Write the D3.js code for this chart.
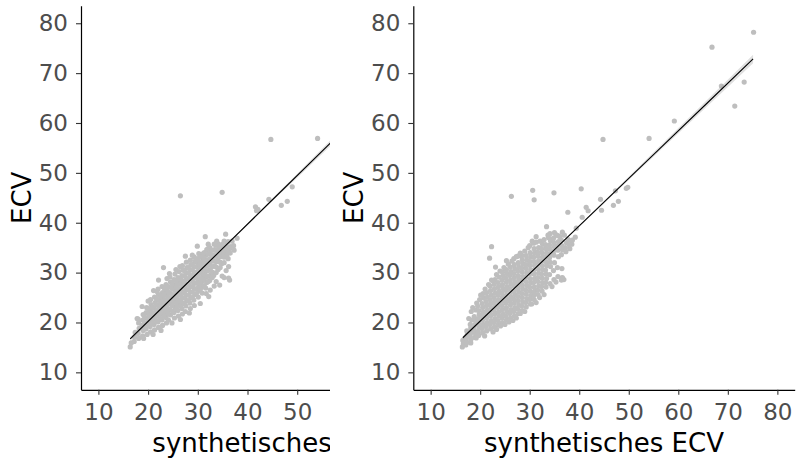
<!DOCTYPE html>
<html>
<head>
<meta charset="UTF-8">
<title>ECV vs synthetisches ECV</title>
<script src="https://cdn.jsdelivr.net/npm/d3@7"></script>
<style>
  body { margin: 0; background: #fff; }
  svg text { font-family: "DejaVu Sans", sans-serif; }
</style>
</head>
<body>
<script>
// shared axis setup
var tickValues = [10, 20, 30, 40, 50, 60, 70, 80];
var axisDomain = [6.5, 83.5];
var xTitle = "synthetisches ECV";
var yTitle = "ECV";

// left panel: [synthetisches ECV, ECV]
var leftPoints = [
  [16.4, 15.1], [16.6, 15.9], [17.2, 16.2], [17.3, 17.1], [17.4, 18.0], [17.8, 20.8],
  [18.1, 16.8], [18.0, 17.8], [18.2, 18.8], [18.1, 19.9], [18.0, 20.7],
  [18.9, 17.3], [19.0, 18.4], [18.8, 19.4], [18.9, 20.5], [19.0, 21.6], [18.8, 23.2],
  [19.8, 17.6], [19.6, 18.7], [19.7, 19.8], [19.8, 20.9], [19.6, 22.0], [19.7, 23.0],
  [20.5, 18.1], [20.4, 19.2], [20.6, 20.3], [20.5, 21.4], [20.4, 22.5], [20.6, 23.6], [20.5, 24.6],
  [21.3, 18.5], [21.2, 19.6], [21.4, 20.7], [21.3, 21.8], [21.2, 22.9], [21.4, 24.0], [21.3, 25.1], [21.1, 26.4],
  [22.1, 19.0], [22.0, 20.1], [22.2, 21.2], [22.1, 22.3], [22.0, 23.4], [22.2, 24.5], [22.1, 25.6], [22.0, 26.7], [22.1, 28.5],
  [22.9, 19.4], [22.8, 20.5], [23.0, 21.6], [22.9, 22.7], [22.8, 23.8], [23.0, 24.9], [22.9, 26.0], [22.8, 27.2],
  [23.7, 19.9], [23.6, 21.0], [23.8, 22.1], [23.7, 23.2], [23.6, 24.3], [23.8, 25.4], [23.7, 26.5], [23.6, 27.6], [23.8, 28.8], [23.1, 31.0],
  [24.1, 20.5], [24.5, 21.5], [24.4, 22.6], [24.6, 23.7], [24.5, 24.8], [24.4, 25.9], [24.6, 27.0], [24.5, 28.1], [24.4, 29.1],
  [25.3, 20.9], [25.2, 22.0], [25.4, 23.1], [25.3, 24.2], [25.2, 25.3], [25.4, 26.4], [25.3, 27.5], [25.2, 28.6], [25.4, 29.7],
  [26.1, 21.3], [26.0, 22.4], [26.2, 23.5], [26.1, 24.6], [26.0, 25.7], [26.2, 26.8], [26.1, 27.9], [26.0, 29.0], [26.2, 30.2],
  [26.9, 21.7], [26.8, 22.8], [27.0, 23.9], [26.9, 25.0], [26.8, 26.1], [27.0, 27.2], [26.9, 28.3], [26.8, 29.4], [27.0, 30.5], [26.9, 31.4],
  [27.5, 22.2], [27.6, 23.3], [27.8, 24.4], [27.7, 25.5], [27.6, 26.6], [27.8, 27.7], [27.7, 28.8], [27.6, 29.9], [27.8, 31.0], [27.7, 32.1], [27.5, 33.3],
  [28.5, 22.8], [28.4, 23.9], [28.6, 25.0], [28.5, 26.1], [28.4, 27.2], [28.6, 28.3], [28.5, 29.4], [28.4, 30.5], [28.6, 31.6], [28.5, 32.5],
  [29.3, 23.4], [29.2, 24.5], [29.4, 25.6], [29.3, 26.7], [29.2, 27.8], [29.4, 28.9], [29.3, 30.0], [29.2, 31.1], [29.4, 32.2], [29.3, 33.1], [29.9, 35.3],
  [30.5, 23.8], [30.1, 25.1], [30.9, 25.9], [30.0, 26.2], [30.2, 27.3], [30.1, 28.4], [30.0, 29.5], [30.2, 30.6], [30.1, 31.7], [30.0, 32.8], [30.2, 33.8],
  [30.9, 27.1], [30.8, 28.2], [31.0, 29.3], [30.9, 30.4], [30.8, 31.5], [31.0, 32.6], [30.9, 33.7], [31.5, 37.2],
  [31.7, 25.8], [31.6, 26.9], [31.8, 28.0], [31.7, 29.1], [31.6, 30.2], [31.8, 31.3], [31.7, 32.4], [31.6, 33.5], [31.8, 34.6],
  [32.5, 26.5], [32.4, 28.4], [32.6, 29.5], [32.5, 30.6], [32.4, 31.7], [32.6, 32.8], [32.5, 33.9], [32.4, 35.0],
  [33.3, 27.3], [33.7, 28.2], [33.2, 29.4], [33.4, 31.3], [33.3, 32.4], [33.2, 33.5], [33.4, 34.6], [33.3, 35.7],
  [34.1, 30.6], [34.0, 32.5], [34.2, 33.6], [34.1, 34.7], [34.0, 35.8],
  [34.9, 29.3], [34.8, 31.8], [35.0, 33.6], [34.9, 34.7], [34.8, 35.6], [35.6, 37.7],
  [35.7, 30.4], [35.8, 33.3], [35.6, 34.2], [35.7, 35.3], [35.8, 36.0],
  [36.2, 31.2], [36.2, 28.9], [36.4, 28.5], [36.5, 33.9], [36.4, 34.8], [36.6, 35.2],
  [37.3, 34.5], [37.2, 35.4], [37.9, 36.9],
  // denser core
  [19.3, 18.9], [19.3, 20.0], [19.3, 21.1],
  [20.1, 19.5], [20.1, 20.6], [20.1, 21.7], [20.1, 22.8],
  [20.9, 19.8], [20.9, 20.9], [20.9, 22.0], [20.9, 23.1],
  [21.7, 20.3], [21.7, 21.4], [21.7, 22.5], [21.7, 23.6], [21.7, 24.7],
  [22.5, 20.8], [22.5, 21.9], [22.5, 23.0], [22.5, 24.1], [22.5, 25.2],
  [23.3, 21.3], [23.3, 22.4], [23.3, 23.5], [23.3, 24.6], [23.3, 25.7], [23.3, 26.8],
  [24.1, 21.7], [24.1, 22.8], [24.1, 23.9], [24.1, 25.0], [24.1, 26.1], [24.1, 27.2],
  [24.9, 22.3], [24.9, 23.4], [24.9, 24.5], [24.9, 25.6], [24.9, 26.7], [24.9, 27.8],
  [25.7, 22.8], [25.7, 23.9], [25.7, 25.0], [25.7, 26.1], [25.7, 27.2], [25.7, 28.3],
  [26.5, 23.3], [26.5, 24.4], [26.5, 25.5], [26.5, 26.6], [26.5, 27.7], [26.5, 28.8],
  [27.3, 23.8], [27.3, 24.9], [27.3, 26.0], [27.3, 27.1], [27.3, 28.2], [27.3, 29.3], [27.3, 30.4],
  [28.1, 24.4], [28.1, 25.5], [28.1, 26.6], [28.1, 27.7], [28.1, 28.8], [28.1, 29.9], [28.1, 31.0],
  [28.9, 25.0], [28.9, 26.1], [28.9, 27.2], [28.9, 28.3], [28.9, 29.4], [28.9, 30.5], [28.9, 31.6],
  [29.7, 25.7], [29.7, 26.8], [29.7, 27.9], [29.7, 29.0], [29.7, 30.1], [29.7, 31.2], [29.7, 32.3],
  [30.5, 26.6], [30.5, 27.7], [30.5, 28.8], [30.5, 29.9], [30.5, 31.0], [30.5, 32.1], [30.5, 33.2],
  [31.3, 27.4], [31.3, 28.5], [31.3, 29.6], [31.3, 30.7], [31.3, 31.8], [31.3, 32.9], [31.3, 34.0],
  [32.1, 28.2], [32.1, 29.3], [32.1, 30.4], [32.1, 31.5], [32.1, 32.6], [32.1, 33.7], [32.1, 34.8],
  [32.9, 29.0], [32.9, 30.1], [32.9, 31.2], [32.9, 32.3], [32.9, 33.4], [32.9, 34.5],
  [33.7, 30.0], [33.7, 31.1], [33.7, 32.2], [33.7, 33.3], [33.7, 34.4], [33.7, 35.5],
  [34.5, 31.0], [34.5, 32.1], [34.5, 33.2], [34.5, 34.3], [34.5, 35.3],
  [35.3, 32.0], [35.3, 33.1], [35.3, 34.2], [35.3, 35.1], [35.3, 36.3],
  [36.1, 32.8], [36.1, 33.9], [36.1, 35.0], [36.1, 36.2],
  // ragged edges
  [19.1, 16.8], [21.0, 17.6], [22.6, 18.4], [24.8, 19.9], [26.5, 20.6], [28.3, 21.9], [32.2, 25.2],
  [34.4, 27.5], [35.3, 29.0], [20.0, 24.3], [21.8, 26.2], [24.3, 29.8], [25.6, 30.6], [26.4, 31.2],
  [28.9, 33.5], [32.1, 35.7], [33.8, 36.3], [36.9, 36.3],
  // outliers
  [41.6, 43.2], [41.8, 42.4], [42.1, 42.7], [44.3, 44.7], [46.8, 43.5], [48.0, 44.3], [49.0, 47.2],
  [26.5, 45.4], [34.9, 46.1], [44.7, 56.7], [54.1, 56.9]
];

// right panel: [synthetisches ECV, ECV]
var rightPoints = [
  [16.4, 15.1], [16.6, 15.7], [16.5, 16.4], [17.1, 15.5], [18.1, 15.9],
  [17.3, 16.0], [17.2, 16.8], [17.4, 17.6], [17.3, 18.3], [17.7, 20.8],
  [18.1, 16.5], [18.0, 17.2], [18.2, 18.0], [18.1, 18.9], [18.0, 19.6], [18.3, 20.5], [18.2, 22.2],
  [18.9, 17.0], [19.0, 17.9], [18.8, 18.7], [18.9, 19.5], [19.0, 20.4], [18.8, 21.2], [19.1, 22.5],
  [19.7, 17.4], [19.6, 18.2], [19.8, 19.1], [19.7, 19.9], [19.6, 20.8], [19.8, 21.6], [19.7, 22.4], [19.5, 23.3],
  [20.5, 17.9], [20.4, 18.8], [20.6, 19.6], [20.5, 20.5], [20.4, 21.3], [20.6, 22.1], [20.5, 23.0], [20.4, 23.8], [20.7, 24.9], [20.6, 25.8],
  [21.3, 18.3], [21.2, 19.2], [21.4, 20.0], [21.3, 20.9], [21.2, 21.7], [21.4, 22.5], [21.3, 23.4], [21.2, 24.2], [21.4, 25.1], [21.3, 26.0],
  [22.1, 18.7], [22.0, 19.6], [22.2, 20.4], [22.1, 21.3], [22.0, 22.1], [22.2, 23.0], [22.1, 23.8], [22.0, 24.6], [22.2, 25.5], [22.1, 26.4], [22.0, 27.3],
  [22.9, 19.1], [22.8, 20.0], [23.0, 20.8], [22.9, 21.7], [22.8, 22.5], [23.0, 23.4], [22.9, 24.2], [22.8, 25.0], [23.0, 25.9], [22.9, 26.8], [22.8, 27.7], [23.0, 28.6],
  [23.7, 19.6], [23.6, 20.4], [23.8, 21.3], [23.7, 22.1], [23.6, 23.0], [23.8, 23.8], [23.7, 24.6], [23.6, 25.5], [23.8, 26.3], [23.7, 27.2], [23.6, 28.0], [23.8, 29.1],
  [24.5, 20.0], [24.4, 20.9], [24.6, 21.7], [24.5, 22.6], [24.4, 23.4], [24.6, 24.3], [24.5, 25.1], [24.4, 25.9], [24.6, 26.8], [24.5, 27.6], [24.4, 28.5], [24.6, 29.4], [24.5, 30.1],
  [25.3, 20.5], [25.2, 21.3], [25.4, 22.2], [25.3, 23.0], [25.2, 23.9], [25.4, 24.7], [25.3, 25.5], [25.2, 26.4], [25.4, 27.2], [25.3, 28.1], [25.2, 28.9], [25.4, 29.8], [25.3, 30.6],
  [26.1, 20.9], [26.0, 21.8], [26.2, 22.6], [26.1, 23.5], [26.0, 24.3], [26.2, 25.1], [26.1, 26.0], [26.0, 26.8], [26.2, 27.7], [26.1, 28.5], [26.0, 29.4], [26.2, 30.2], [26.1, 31.1],
  [26.9, 21.3], [26.8, 22.2], [27.0, 23.0], [26.9, 23.9], [26.8, 24.7], [27.0, 25.6], [26.9, 26.4], [26.8, 27.3], [27.0, 28.1], [26.9, 29.0], [26.8, 29.8], [27.0, 30.7], [26.9, 31.6], [26.8, 32.8],
  [27.7, 21.8], [27.6, 22.7], [27.8, 23.5], [27.7, 24.4], [27.6, 25.2], [27.8, 26.1], [27.7, 26.9], [27.6, 27.7], [27.8, 28.6], [27.7, 29.4], [27.6, 30.3], [27.8, 31.1], [27.7, 32.0], [27.6, 33.3],
  [28.5, 22.4], [28.4, 23.3], [28.6, 24.1], [28.5, 25.0], [28.4, 25.8], [28.6, 26.7], [28.5, 27.5], [28.4, 28.4], [28.6, 29.2], [28.5, 30.1], [28.4, 30.9], [28.6, 31.8], [28.5, 32.6], [28.4, 33.4],
  [29.3, 23.1], [29.2, 24.0], [29.4, 24.8], [29.3, 25.7], [29.2, 26.5], [29.4, 27.4], [29.3, 28.2], [29.2, 29.1], [29.4, 29.9], [29.3, 30.8], [29.2, 31.6], [29.4, 32.5], [29.3, 33.4],
  [30.1, 23.7], [30.0, 24.6], [30.2, 25.4], [30.1, 26.3], [30.0, 27.1], [30.2, 28.0], [30.1, 28.8], [30.0, 29.7], [30.2, 30.5], [30.1, 31.4], [30.0, 32.2], [30.2, 33.1], [30.1, 34.0], [30.0, 35.4],
  [30.9, 24.6], [30.8, 25.4], [31.0, 26.3], [30.9, 27.1], [30.8, 28.0], [31.0, 28.8], [30.9, 29.7], [30.8, 30.5], [31.0, 31.4], [30.9, 32.2], [30.8, 33.1], [31.0, 33.9], [30.9, 34.8], [30.8, 35.9],
  [31.7, 25.6], [31.6, 26.5], [31.8, 27.3], [31.7, 28.2], [31.6, 29.0], [31.8, 29.9], [31.7, 30.7], [31.6, 31.6], [31.8, 32.4], [31.7, 33.3], [31.6, 34.1], [31.8, 35.0], [31.3, 37.2],
  [32.5, 26.3], [32.4, 27.2], [32.6, 28.0], [32.5, 28.9], [32.4, 29.7], [32.6, 30.6], [32.5, 31.4], [32.4, 32.3], [32.6, 33.1], [32.5, 34.0], [32.4, 34.8], [32.6, 35.7],
  [33.3, 27.1], [33.2, 28.0], [33.4, 28.8], [33.3, 29.7], [33.2, 30.5], [33.4, 31.4], [33.3, 32.2], [33.2, 33.1], [33.4, 33.9], [33.3, 34.8], [33.2, 35.6], [33.7, 37.5], [33.4, 39.2],
  [34.1, 27.8], [34.0, 29.6], [34.2, 31.2], [34.1, 32.1], [34.0, 33.0], [34.2, 33.8], [34.1, 34.7], [34.0, 35.5], [34.2, 36.4], [34.1, 37.8],
  [34.9, 28.6], [34.8, 30.4], [35.0, 32.0], [34.9, 33.5], [34.8, 34.3], [35.0, 35.2], [34.9, 36.0], [34.8, 36.9], [35.0, 38.0],
  [35.7, 29.2], [35.6, 31.0], [35.8, 33.2], [35.7, 34.5], [35.6, 35.3], [35.8, 36.2], [35.7, 37.4],
  [36.4, 28.5], [36.6, 29.0], [36.5, 30.8], [36.4, 33.6], [36.6, 34.6], [36.5, 35.4], [36.4, 36.5], [36.6, 38.1],
  [37.3, 34.2], [37.2, 35.0], [37.4, 36.0], [38.1, 34.8], [38.5, 35.7], [38.0, 35.6],
  // ragged lower edge
  [19.2, 16.9], [20.9, 17.3], [22.6, 18.1], [23.3, 18.6], [24.1, 19.3], [25.0, 19.6], [25.8, 20.1],
  [26.6, 20.4], [27.3, 20.9], [29.0, 22.2], [31.3, 24.0], [32.0, 25.0], [32.9, 25.6], [34.5, 27.2],
  [35.3, 28.1], [36.9, 28.6], [36.5, 28.9],
  // ragged upper edge
  [18.5, 23.0], [19.3, 23.9], [19.9, 24.6], [20.1, 25.5], [21.0, 26.7], [21.7, 27.6], [22.5, 28.4],
  [23.3, 29.6], [24.0, 30.3], [24.8, 31.0], [25.7, 31.7], [26.4, 32.3], [27.3, 33.2], [28.1, 33.9],
  [29.0, 34.3], [29.7, 35.0], [30.5, 36.3], [31.3, 36.1], [32.1, 36.3], [32.9, 36.6], [33.8, 37.0],
  [35.3, 37.6], [36.1, 37.2], [37.0, 37.5], [37.8, 36.6], [38.6, 36.5], [39.2, 37.1],
  // outliers
  [22.3, 35.2], [21.9, 32.9], [23.1, 31.1], [25.3, 32.4], [22.3, 28.5], [28.1, 21.8], [30.4, 23.7], [30.8, 26.0],
  [37.7, 42.1], [39.4, 38.9], [40.6, 41.1], [41.4, 43.1], [41.8, 42.4], [44.3, 44.7], [44.5, 42.5],
  [46.9, 43.5], [47.9, 44.3], [47.3, 46.4], [49.5, 46.9], [49.8, 47.1],
  [26.3, 45.3], [30.6, 46.5], [30.9, 44.6], [34.9, 46.0], [40.4, 46.8],
  [44.8, 56.7], [54.1, 56.9], [59.2, 60.4], [66.8, 75.2], [68.7, 67.4], [71.4, 63.4], [73.3, 68.2], [75.2, 78.2]
];

// fitted lines with standard error
var leftFitX = [16.4, 26, 36, 46, 56, 62];
var leftFitY = [16.7, 26.06, 35.81, 45.56, 55.31, 61.16];
var leftFitSe = [0.4, 0.2, 0.15, 0.3, 0.55, 0.7];

var rightFitX = [16.5, 26, 36, 46, 56, 66, 75.1];
var rightFitY = [16.94, 26.0, 35.54, 45.08, 54.62, 64.16, 72.84];
var rightFitSe = [0.35, 0.15, 0.12, 0.25, 0.45, 0.65, 0.85];

var W = 796, H = 460;
var svg = d3.select("body").append("svg").attr("width", W).attr("height", H);

function drawPanel(g, opt) {
  var x = d3.scaleLinear().domain(axisDomain).range([opt.x0, opt.x1]);
  var y = d3.scaleLinear().domain(axisDomain).range([389.8, 5.8]);

  var clipId = "clip-" + opt.name;
  g.append("clipPath").attr("id", clipId)
    .append("rect")
    .attr("x", opt.x0).attr("y", 5.8)
    .attr("width", opt.x1 - opt.x0).attr("height", 384);

  var plot = g.append("g").attr("clip-path", "url(#" + clipId + ")");

  plot.selectAll("circle")
    .data(opt.points)
    .enter().append("circle")
    .attr("cx", function(d) { return x(d[0]); })
    .attr("cy", function(d) { return y(d[1]); })
    .attr("r", 2.6)
    .style("fill", "#bebebe");

  var fit = opt.fitX.map(function(v, i) {
    return { x: v, y: opt.fitY[i], se: opt.fitSe[i] };
  });

  plot.append("path")
    .datum(fit)
    .attr("d", d3.area()
      .x(function(d) { return x(d.x); })
      .y0(function(d) { return y(d.y - d.se); })
      .y1(function(d) { return y(d.y + d.se); })
      .curve(d3.curveMonotoneX))
    .style("fill", "#999999")
    .style("opacity", 0.3);

  plot.append("path")
    .datum(fit)
    .attr("d", d3.line()
      .x(function(d) { return x(d.x); })
      .y(function(d) { return y(d.y); }))
    .style("fill", "none")
    .style("stroke", "#000")
    .style("stroke-width", 1.1);

  // only the ticks that are not hidden behind the next plot
  var shown = tickValues.filter(function(v) { return x(v) < opt.visibleRight; });

  var xAxis = g.append("g")
    .attr("transform", "translate(0,389.8)")
    .call(d3.axisBottom(x).tickValues(shown).tickSize(5).tickPadding(9.3).tickSizeOuter(0));
  var yAxis = g.append("g")
    .attr("transform", "translate(" + opt.x0 + ",0)")
    .call(d3.axisLeft(y).tickValues(tickValues).tickSize(5).tickPadding(8).tickSizeOuter(0));

  [xAxis, yAxis].forEach(function(a) {
    a.select(".domain").style("stroke", "#000").style("stroke-width", 1.2);
    a.selectAll(".tick line").style("stroke", "#333").style("stroke-width", 1.1);
    a.selectAll(".tick text").style("fill", "#4d4d4d").style("font-size", "23px")
      .style("font-family", "'DejaVu Sans', sans-serif");
  });

  g.append("text")
    .attr("x", (opt.x0 + opt.x1) / 2)
    .attr("y", 451.7)
    .attr("text-anchor", "middle")
    .style("font-size", "26px")
    .text(xTitle);

  g.append("text")
    .attr("transform", "translate(" + (opt.x0 - 50) + ",197.8) rotate(-90)")
    .attr("text-anchor", "middle")
    .style("font-size", "26px")
    .text(yTitle);
}

var left = svg.append("g");
drawPanel(left, {
  name: "left", x0: 81, x1: 463.7, visibleRight: 330,
  points: leftPoints, fitX: leftFitX, fitY: leftFitY, fitSe: leftFitSe
});

// right plot sits on top of the left one and hides its right part
var right = svg.append("g");
right.append("rect")
  .attr("x", 330).attr("y", 0)
  .attr("width", W - 330).attr("height", H)
  .style("fill", "#fff");
drawPanel(right, {
  name: "right", x0: 413.3, x1: 794.7, visibleRight: W,
  points: rightPoints, fitX: rightFitX, fitY: rightFitY, fitSe: rightFitSe
});
</script>
</body>
</html>
